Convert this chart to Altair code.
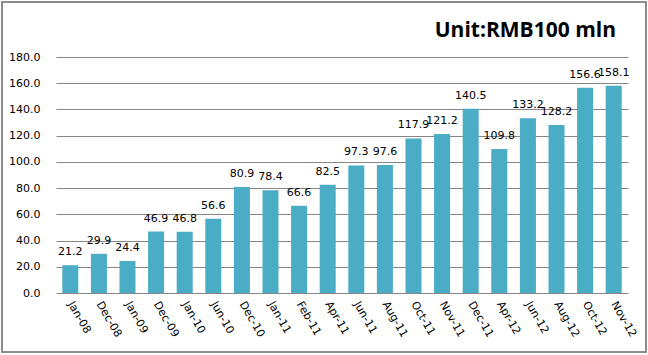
import altair as alt
import pandas as pd

categories = ["Jan-08", "Dec-08", "Jan-09", "Dec-09", "Jan-10", "Jun-10", "Dec-10",
              "Jan-11", "Feb-11", "Apr-11", "Jun-11", "Aug-11", "Oct-11", "Nov-11",
              "Dec-11", "Apr-12", "Jun-12", "Aug-12", "Oct-12", "Nov-12"]
values = [21.2, 29.9, 24.4, 46.9, 46.8, 56.6, 80.9, 78.4, 66.6, 82.5,
          97.3, 97.6, 117.9, 121.2, 140.5, 109.8, 133.2, 128.2, 156.6, 158.1]
y_ticks = [0, 20, 40, 60, 80, 100, 120, 140, 160, 180]
title_text = ["Unit:RMB100 mln"]

df = pd.DataFrame({"cat": categories, "val": values})

W, H = 572, 236
FONT = "DejaVu Sans"

x = alt.X("cat:N", sort=categories, title=None,
          scale=alt.Scale(paddingInner=0.44, paddingOuter=0.22),
          axis=alt.Axis(labelAngle=60, labelAlign="left", labelBaseline="middle",
                        labelFont=FONT, labelFontSize=11, labelColor="#000000",
                        labelPadding=9, ticks=False, domain=False, grid=False))
y = alt.Y("val:Q", title=None,
          scale=alt.Scale(domain=[0, 180], nice=False),
          axis=alt.Axis(values=y_ticks, format=".1f", labelFont=FONT, labelFontSize=11,
                        labelColor="#000000", labelPadding=16, ticks=False, domain=False,
                        labelOverlap=False, grid=True, gridColor="#868686", gridWidth=1))

bars = alt.Chart(df).mark_bar(color="#4BACC6").encode(x=x, y=y)
labels = alt.Chart(df).mark_text(font=FONT, fontSize=11, color="#000000",
                                 baseline="bottom", dy=-8).encode(
    x=x, y=y, text=alt.Text("val:Q", format=".1f"))

border = alt.Chart(df).mark_rect(fill=None, stroke="#8c8c8c", strokeWidth=1.5).encode(
    x=alt.value(-54), x2=alt.value(590), y=alt.value(-55), y2=alt.value(295))

title = alt.Chart(pd.DataFrame({"t": title_text})).mark_text(
    font="Open Sans", fontSize=21, fontWeight="bold", color="#000000",
    align="right", baseline="alphabetic").encode(
    text="t:N", x=alt.value(W - 12), y=alt.value(-20))

chart = alt.layer(bars, labels, border, title).properties(
    width=W, height=H,
    autosize=alt.AutoSizeParams(type="none"),
    padding={"left": 56, "top": 57, "right": 20, "bottom": 62},
).configure_view(stroke=None)

chart.save("out.html", embed_options={"renderer": "svg", "actions": False})
